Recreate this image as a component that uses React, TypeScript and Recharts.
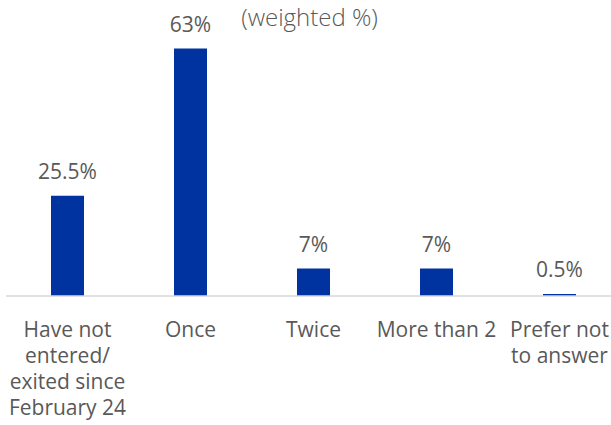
import React from "react";
import { BarChart, Bar, XAxis, YAxis, LabelList } from "recharts";

const categories: string[] = [
  "Have not entered/ exited since February 24",
  "Once",
  "Twice",
  "More than 2",
  "Prefer not to answer",
];

const tickLines: string[][] = [
  ["Have not", "entered/", "exited since", "February 24"],
  ["Once"],
  ["Twice"],
  ["More than 2"],
  ["Prefer not", "to answer"],
];

const shares: number[] = [25.5, 63, 7, 7, 0.5];

const data = categories.map((name, i) => ({
  name,
  lines: tickLines[i],
  value: shares[i],
}));

const textColor = "#595959";
const font = "'Open Sans', sans-serif";

const CategoryTick = (props: any) => {
  const { x, y, index } = props;
  const lines = tickLines[index] || [];
  return (
    <text
      x={x}
      y={y}
      textAnchor="middle"
      fill={textColor}
      fontSize={21}
      fontFamily={font}
    >
      {lines.map((line, i) => (
        <tspan key={i} x={x} dy={i === 0 ? 33 : 26}>
          {line}
        </tspan>
      ))}
    </text>
  );
};

const App: React.FC = () => {
  return (
    <div
      style={{
        position: "absolute",
        left: 0,
        top: 0,
        width: 611,
        height: 425,
        overflow: "hidden",
        background: "#fff",
      }}
    >
      <div
        style={{
          position: "absolute",
          left: 0,
          top: 2,
          width: 611,
          textAlign: "center",
          fontFamily: font,
          fontSize: 24,
          fontWeight: 300,
          color: textColor,
          lineHeight: "30px",
          paddingLeft: 8,
          boxSizing: "border-box",
        }}
      >
        (weighted %)
      </div>
      <BarChart
        width={621}
        height={425}
        data={data}
        margin={{ top: 21, right: 0, bottom: 0, left: 6 }}
      >
        <XAxis
          dataKey="name"
          axisLine={{ stroke: "#d9d9d9", strokeWidth: 1.5 }}
          tickLine={false}
          height={129}
          interval={0}
          tick={<CategoryTick />}
        />
        <YAxis hide domain={[0, 70]} />
        <Bar dataKey="value" fill="#0033a0" barSize={33} isAnimationActive={false}>
          <LabelList
            dataKey="value"
            position="top"
            offset={17}
            formatter={(v: any) => `${v}%`}
            fill={textColor}
            fontSize={21}
            fontFamily={font}
          />
        </Bar>
      </BarChart>
    </div>
  );
};

export default App;
